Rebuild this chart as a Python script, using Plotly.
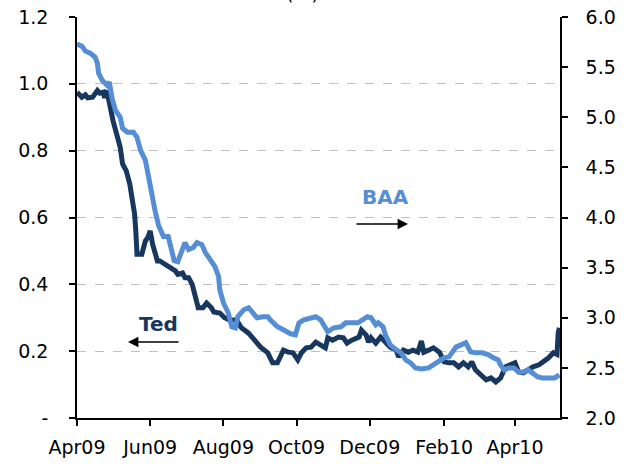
import plotly.graph_objects as go

# ---- data ----
baa_dates = ["2009-04-01","2009-04-05","2009-04-08","2009-04-12","2009-04-16","2009-04-18","2009-04-19","2009-04-22",
             "2009-04-26","2009-04-28","2009-04-30","2009-05-03","2009-05-07","2009-05-09","2009-05-13","2009-05-18",
             "2009-05-21","2009-05-24","2009-05-28","2009-05-30","2009-06-01","2009-06-03","2009-06-05","2009-06-08",
             "2009-06-12","2009-06-16","2009-06-19","2009-06-21","2009-06-24","2009-06-28","2009-06-30","2009-07-03",
             "2009-07-07","2009-07-10","2009-07-14","2009-07-17","2009-07-21","2009-07-25","2009-07-28","2009-07-29",
             "2009-08-01","2009-08-05","2009-08-08","2009-08-11","2009-08-13","2009-08-18","2009-08-22","2009-08-25",
             "2009-08-29","2009-09-03","2009-09-07","2009-09-09","2009-09-15","2009-09-20","2009-09-26","2009-09-30",
             "2009-10-03","2009-10-07","2009-10-13","2009-10-17","2009-10-21","2009-10-24","2009-10-27","2009-11-01",
             "2009-11-07","2009-11-11","2009-11-15","2009-11-21","2009-11-25","2009-11-29","2009-12-02","2009-12-06",
             "2009-12-08","2009-12-12","2009-12-14","2009-12-18","2009-12-23","2009-12-27","2009-12-31","2010-01-04",
             "2010-01-08","2010-01-13","2010-01-19","2010-01-23","2010-01-28","2010-02-01","2010-02-05","2010-02-08",
             "2010-02-11","2010-02-15","2010-02-19","2010-02-23","2010-02-27","2010-03-05","2010-03-10","2010-03-14",
             "2010-03-18","2010-03-20","2010-03-23","2010-03-27","2010-03-31","2010-04-04","2010-04-08","2010-04-12",
             "2010-04-16","2010-04-20","2010-04-24","2010-04-29","2010-05-04","2010-05-08"]
baa_values = [5.73,5.71,5.66,5.64,5.60,5.54,5.44,5.37,
              5.32,5.35,5.20,5.07,5.00,4.89,4.85,4.85,
              4.80,4.67,4.57,4.44,4.30,4.19,4.07,3.92,
              3.81,3.81,3.66,3.57,3.56,3.68,3.75,3.68,
              3.70,3.75,3.73,3.65,3.58,3.51,3.41,3.28,
              3.15,3.05,2.91,2.90,3.01,3.08,3.10,3.05,
              3.00,3.01,3.01,2.98,2.91,2.88,2.84,2.83,
              2.95,2.98,3.00,3.01,2.98,2.91,2.86,2.90,
              2.91,2.95,2.95,2.95,2.98,3.01,3.00,2.93,
              2.95,2.91,2.83,2.73,2.68,2.65,2.58,2.55,
              2.50,2.49,2.50,2.53,2.58,2.60,2.61,2.66,
              2.71,2.73,2.75,2.66,2.65,2.65,2.63,2.60,
              2.58,2.53,2.48,2.50,2.50,2.46,2.46,2.48,
              2.45,2.41,2.40,2.40,2.40,2.43]

ted_dates = ["2009-04-01","2009-04-05","2009-04-08","2009-04-10","2009-04-14","2009-04-18","2009-04-20","2009-04-23",
             "2009-04-24","2009-04-25","2009-04-27","2009-04-29","2009-05-01","2009-05-04","2009-05-07","2009-05-09",
             "2009-05-12","2009-05-15","2009-05-16","2009-05-17","2009-05-19","2009-05-20","2009-05-21","2009-05-25",
             "2009-05-28","2009-05-30","2009-06-01","2009-06-03","2009-06-07","2009-06-09","2009-06-13","2009-06-17",
             "2009-06-22","2009-06-24","2009-06-28","2009-06-30","2009-07-03","2009-07-06","2009-07-09","2009-07-11",
             "2009-07-15","2009-07-18","2009-07-22","2009-07-24","2009-07-29","2009-08-02","2009-08-06","2009-08-12",
             "2009-08-16","2009-08-22","2009-08-27","2009-09-01","2009-09-07","2009-09-11","2009-09-15","2009-09-20",
             "2009-09-24","2009-09-28","2009-10-02","2009-10-05","2009-10-09","2009-10-13","2009-10-17","2009-10-21",
             "2009-10-25","2009-10-27","2009-10-31","2009-11-05","2009-11-09","2009-11-12","2009-11-16","2009-11-22",
             "2009-11-24","2009-11-28","2009-11-30","2009-12-02","2009-12-06","2009-12-10","2009-12-14","2009-12-18",
             "2009-12-23","2009-12-25","2009-12-29","2010-01-02","2010-01-06","2010-01-10","2010-01-13","2010-01-15",
             "2010-01-19","2010-01-23","2010-01-28","2010-02-01","2010-02-05","2010-02-09","2010-02-13","2010-02-17",
             "2010-02-21","2010-02-24","2010-02-27","2010-03-03","2010-03-08","2010-03-12","2010-03-16","2010-03-20",
             "2010-03-24","2010-03-28","2010-04-01","2010-04-04","2010-04-08","2010-04-12","2010-04-14","2010-04-16",
             "2010-04-21","2010-04-25","2010-04-29","2010-05-03","2010-05-06","2010-05-07","2010-05-08"]
ted_values = [0.975,0.96,0.967,0.958,0.96,0.98,0.972,0.975,
              0.958,0.98,0.96,0.92,0.89,0.85,0.81,0.76,
              0.74,0.70,0.68,0.64,0.61,0.56,0.49,0.49,
              0.53,0.54,0.56,0.52,0.47,0.47,0.46,0.45,
              0.44,0.43,0.434,0.42,0.42,0.40,0.36,0.33,
              0.33,0.344,0.33,0.317,0.314,0.30,0.293,0.293,
              0.27,0.254,0.233,0.212,0.195,0.165,0.165,0.203,
              0.197,0.195,0.174,0.195,0.21,0.212,0.227,0.218,
              0.21,0.24,0.233,0.242,0.24,0.224,0.233,0.242,
              0.263,0.248,0.227,0.24,0.224,0.242,0.227,0.212,
              0.203,0.183,0.203,0.197,0.203,0.197,0.23,0.197,
              0.203,0.21,0.197,0.168,0.165,0.165,0.153,0.165,
              0.153,0.168,0.144,0.129,0.114,0.12,0.108,0.12,
              0.153,0.159,0.165,0.138,0.135,0.144,0.15,0.153,
              0.159,0.168,0.18,0.195,0.19,0.254,0.27]

x_tickvals = ["2009-04-01","2009-06-01","2009-08-01","2009-10-01","2009-12-01","2010-02-01","2010-04-01"]
x_ticktext = ["Apr09","Jun09","Aug09","Oct09","Dec09","Feb10","Apr10"]
left_tickvals = [0, 0.2, 0.4, 0.6, 0.8, 1.0, 1.2]
left_ticktext = ["-", "0.2", "0.4", "0.6", "0.8", "1.0", "1.2"]

TED_COLOR = "#17375E"
BAA_COLOR = "#558ED5"
FONT = "DejaVu Sans"
FS = 19

fig = go.Figure()
fig.add_trace(go.Scatter(x=baa_dates, y=baa_values, name="BAA", mode="lines",
                         line=dict(color=BAA_COLOR, width=5), yaxis="y2"))
fig.add_trace(go.Scatter(x=ted_dates, y=ted_values, name="Ted", mode="lines",
                         line=dict(color=TED_COLOR, width=5), yaxis="y"))

fig.update_layout(
    width=631, height=464,
    margin=dict(l=77, r=71, t=17, b=46, autoexpand=False),
    paper_bgcolor="white", plot_bgcolor="white",
    showlegend=False,
    font=dict(family=FONT, size=FS, color="black"),
    xaxis=dict(type="date", range=["2009-04-01", "2010-05-08 12:00"],
               tickvals=x_tickvals, ticktext=x_ticktext,
               ticks="outside", ticklen=6, tickwidth=1.5, tickcolor="black",
               showline=True, linecolor="black", linewidth=1.5, automargin=False,
               showgrid=False, zeroline=False, ticklabelstandoff=5, tickfont=dict(size=FS)),
    yaxis=dict(range=[0, 1.2], tickvals=left_tickvals, ticktext=left_ticktext,
               ticks="outside", ticklen=6, tickwidth=1.5, tickcolor="black",
               showline=True, linecolor="black", linewidth=1.5, automargin=False,
               showgrid=True, gridcolor="#BFBFBF", griddash="dash", gridwidth=1,
               zeroline=False, ticklabelstandoff=17, tickfont=dict(size=FS)),
    yaxis2=dict(range=[2.0, 6.0], dtick=0.5, tickformat=".1f", overlaying="y", side="right",
                ticks="outside", ticklen=6, tickwidth=1.5, tickcolor="black",
                showline=True, linecolor="black", linewidth=1.5, automargin=False,
                showgrid=False, zeroline=False, ticklabelstandoff=14, tickfont=dict(size=FS)),
)

# annotations: series labels with arrows
fig.add_annotation(xref="paper", yref="paper", x=(385-77)/483, y=(418-197)/401,
                   xanchor="center", yanchor="middle",
                   text="<b>BAA</b>", showarrow=False, font=dict(color=BAA_COLOR, size=20, family=FONT))
fig.add_annotation(xref="paper", yref="paper", x=(408-77)/483, y=(418-224)/401,
                   ax=-53, ay=0, text="", showarrow=True, arrowhead=2, arrowsize=1.3,
                   arrowwidth=1.6, arrowcolor="black")
fig.add_annotation(xref="paper", yref="paper", x=(158-77)/483, y=(418-324)/401,
                   xanchor="center", yanchor="middle",
                   text="<b>Ted</b>", showarrow=False, font=dict(color=TED_COLOR, size=20, family=FONT))
fig.add_annotation(xref="paper", yref="paper", x=(128-77)/483, y=(418-342)/401,
                   ax=52, ay=0, text="", showarrow=True, arrowhead=2, arrowsize=1.3,
                   arrowwidth=1.6, arrowcolor="black")
# partially visible chart title at the very top
fig.add_annotation(xref="paper", yref="paper", x=(302-77)/483, y=1.028, xanchor="center", yanchor="bottom",
                   text="(%)", showarrow=False, font=dict(size=FS, family=FONT, color="black"))

fig.write_html("out.html", config={"displayModeBar": False},
               post_script="document.body.style.margin='0';")
